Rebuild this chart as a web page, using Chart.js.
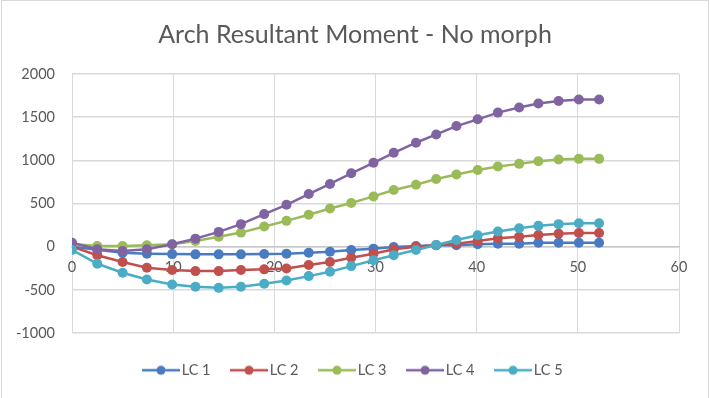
<!DOCTYPE html>
<html>
<head>
<meta charset="utf-8">
<script src="https://cdn.jsdelivr.net/npm/chart.js@4.4.1/dist/chart.umd.min.js"></script>
<style>
  html, body { margin: 0; padding: 0; background: #fff; }
  #wrap { position: relative; width: 710px; height: 398px; overflow: hidden; }
  #frame { position: absolute; left: 1px; top: 0; width: 706px; height: 420px; border: 1px solid #d9d9d9; pointer-events: none; }
</style>
</head>
<body>
<div id="wrap">
  <canvas id="chart"></canvas>
  <div id="frame"></div>
</div>
<script>
// Moment résultant de l'arc
const STATIONS = [0, 2.5, 5, 7.4, 9.9, 12.2, 14.5, 16.7, 19.0, 21.2, 23.4, 25.5, 27.6,
  29.8, 31.8, 34.0, 36.0, 38.0, 40.1, 42.1, 44.2, 46.1, 48.1, 50.1, 52.1];
const LC1 = [0, -35, -70, -81, -86, -89, -89, -89, -85, -81, -70, -58, -40,
  -23, -5, 8, 16, 16, 28, 35, 35, 46, 46, 46, 46];
const LC2 = [0, -100, -178, -244, -271, -283, -283, -271, -263, -252, -213, -178, -128,
  -81, -30, 0, 16, 35, 66, 98, 116, 136, 151, 159, 159];
const LC3 = [30, 8, 8, 16, 28, 66, 116, 163, 233, 299, 369, 442, 505,
  582, 656, 718, 784, 835, 889, 928, 959, 989, 1009, 1017, 1017];
const LC4 = [46, -30, -50, -30, 28, 93, 171, 261, 377, 485, 610, 726, 850,
  971, 1087, 1204, 1300, 1397, 1475, 1553, 1611, 1658, 1688, 1704, 1704];
const LC5 = [-38, -198, -302, -380, -438, -465, -477, -465, -430, -391, -341, -291, -225,
  -158, -100, -38, 20, 78, 133, 175, 214, 241, 261, 272, 272];

const SERIES = [
  { label: 'LC 1', values: LC1, color: '#4a7bc0' },
  { label: 'LC 2', values: LC2, color: '#c0504d' },
  { label: 'LC 3', values: LC3, color: '#9bbb59' },
  { label: 'LC 4', values: LC4, color: '#8064a2' },
  { label: 'LC 5', values: LC5, color: '#4bacc6' }
];

const TEXT = '#595959';
const GRID = '#d9d9d9';
const FONT = "Lato, 'Open Sans', sans-serif";

// petit symbole de légende façon Excel : trait + rond
function legendIcon(color) {
  const c = document.createElement('canvas');
  c.width = 38; c.height = 12;
  const g = c.getContext('2d');
  g.strokeStyle = color;
  g.lineWidth = 2.5;
  g.beginPath(); g.moveTo(0, 6); g.lineTo(38, 6); g.stroke();
  g.fillStyle = color;
  g.beginPath(); g.arc(19, 6, 4.5, 0, Math.PI * 2); g.fill();
  return c;
}

// titre et légende Excel centrés sur toute la largeur, pas sur la zone du graphe
const centerBlocks = {
  id: 'centerBlocks',
  afterLayout(chart) {
    chart.legend.left = 0;
    chart.legend.right = chart.width;
    chart.legend.top += 5;
    chart.legend.bottom += 5;
    chart.titleBlock.left = 0;
    chart.titleBlock.right = chart.width;
  }
};

const datasets = SERIES.map((s, i) => ({
  label: s.label,
  data: STATIONS.map((x, k) => ({ x, y: s.values[k] })),
  borderColor: s.color,
  backgroundColor: s.color,
  borderWidth: 2.5,
  pointRadius: 5,
  pointHoverRadius: 5,
  pointBorderWidth: 0,
  tension: 0,
  order: SERIES.length - i
}));

new Chart(document.getElementById('chart'), {
  type: 'line',
  data: { datasets },
  plugins: [centerBlocks],
  options: {
    responsive: true,
    maintainAspectRatio: false,
    animation: false,
    layout: { padding: { left: 10, right: 31, top: 0, bottom: 15.5 } },
    plugins: {
      title: {
        display: true,
        text: 'Arch Resultant Moment - No morph',
        color: TEXT,
        font: { family: FONT, size: 25, weight: 'normal' },
        padding: { top: 20, bottom: 24 }
      },
      legend: {
        position: 'bottom',
        labels: {
          color: TEXT,
          font: { family: FONT, size: 14.5 },
          usePointStyle: true,
          pointStyleWidth: 27,
          padding: 25,
          generateLabels: () => SERIES.map((s, i) => ({
            text: s.label,
            fillStyle: s.color,
            strokeStyle: s.color,
            fontColor: TEXT,
            pointStyle: legendIcon(s.color),
            datasetIndex: i,
            lineWidth: 0
          }))
        }
      },
      tooltip: { enabled: false }
    },
    scales: {
      x: {
        type: 'linear',
        min: 0,
        max: 60,
        position: { y: 0 },
        ticks: { stepSize: 10, color: TEXT, font: { family: FONT, size: 14.5 }, padding: 12, maxRotation: 0 },
        grid: { color: GRID, lineWidth: 1, drawTicks: false },
        border: { color: '#c8c8c8', width: 1.5 }
      },
      y: {
        min: -1000,
        max: 2000,
        ticks: {
          stepSize: 500,
          color: TEXT,
          font: { family: FONT, size: 14.5 },
          padding: 17,
          callback: (v) => String(v)
        },
        grid: { color: GRID, lineWidth: 1.5, drawTicks: false },
        border: { display: false },
        afterFit: (s) => { s.width = 62; }
      }
    }
  }
});
</script>
</body>
</html>
